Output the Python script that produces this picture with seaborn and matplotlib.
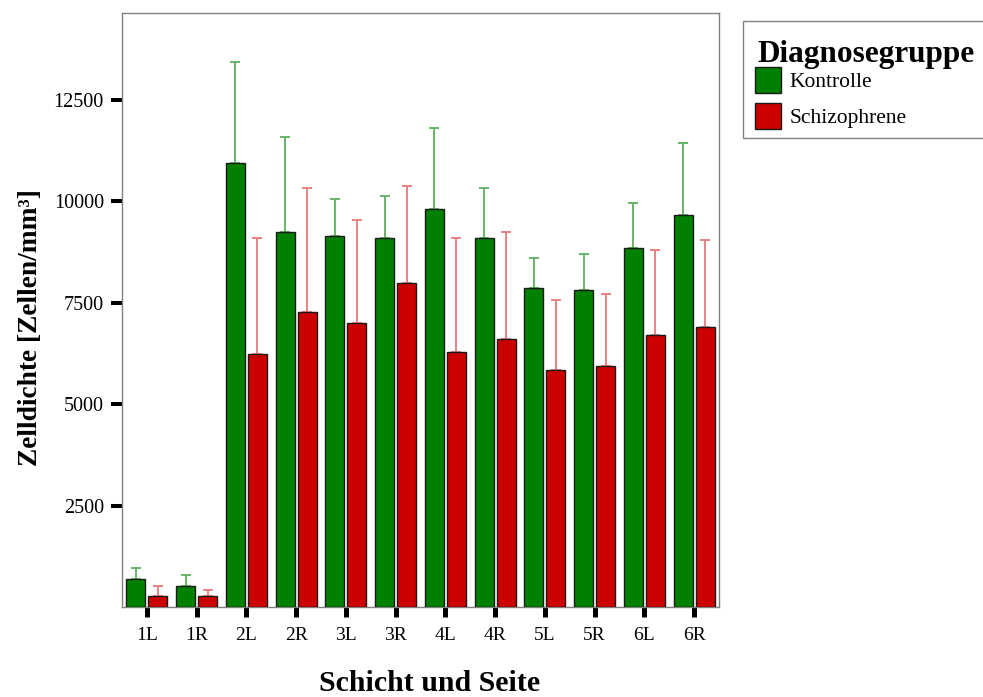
import numpy as np
import pandas as pd
import seaborn as sns
import matplotlib
matplotlib.use("Agg")
import matplotlib.pyplot as plt
from matplotlib.patches import Patch, Rectangle

categories = ["1L", "1R", "2L", "2R", "3L", "3R", "4L", "4R", "5L", "5R", "6L", "6R"]
groups = ["Kontrolle", "Schizophrene"]
kontrolle_mean = [680, 530, 10940, 9250, 9150, 9100, 9810, 9100, 7860, 7810, 8850, 9660]
kontrolle_upper = [950, 800, 13430, 11590, 10060, 10120, 11800, 10320, 8590, 8690, 9960, 11440]
schizo_mean = [280, 280, 6240, 7260, 7000, 7990, 6290, 6600, 5830, 5930, 6700, 6900]
schizo_upper = [530, 430, 9090, 10330, 9550, 10370, 9100, 9250, 7570, 7720, 8800, 9040]
yticks = [2500, 5000, 7500, 10000, 12500]

bar_colors = {"Kontrolle": "#008000", "Schizophrene": "#cc0000"}
err_colors = {"Kontrolle": "#5cb05c", "Schizophrene": "#e87878"}

df = pd.DataFrame({
    "Schicht": categories * 2,
    "Gruppe": [groups[0]] * len(categories) + [groups[1]] * len(categories),
    "Wert": kontrolle_mean + schizo_mean,
})

sns.set_style("white")
plt.rcParams["font.family"] = ["Liberation Serif", "DejaVu Serif"]
plt.rcParams["text.color"] = "black"
plt.rcParams["axes.labelcolor"] = "black"
plt.rcParams["xtick.color"] = "black"
plt.rcParams["ytick.color"] = "black"

W, H = 983, 697
fig = plt.figure(figsize=(W / 100, H / 100), dpi=100)
ax = fig.add_axes([0.1241, 0.1291, 0.6073, 0.8522])

sns.barplot(data=df, x="Schicht", y="Wert", hue="Gruppe", order=categories,
            hue_order=groups, palette=bar_colors, errorbar=None, width=0.88,
            gap=0.13, edgecolor="#1a1a1a", linewidth=1.0, saturation=1,
            legend=False, ax=ax, zorder=3)

# error bars (upper only) at bar centres
patches = ax.patches
n = len(categories)
for gi, (g, means, uppers) in enumerate([(groups[0], kontrolle_mean, kontrolle_upper),
                                          (groups[1], schizo_mean, schizo_upper)]):
    bars = patches[gi * n:(gi + 1) * n]
    xs = [b.get_x() + b.get_width() / 2 for b in bars]
    m = np.array(means)
    u = np.array(uppers)
    ax.errorbar(xs, m, yerr=[np.zeros_like(m), u - m], fmt="none",
                ecolor=err_colors[g], elinewidth=1.3, capsize=3.4, capthick=1.3,
                zorder=2)

ax.set_xlim(-0.5, len(categories) - 0.5)
ax.set_ylim(0, 14640)
ax.set_yticks(yticks)
ax.set_yticklabels([str(t) for t in yticks])

for s in ax.spines.values():
    s.set_color("#808080")
    s.set_linewidth(1.0)

ax.tick_params(axis="y", direction="out", length=8, width=2.9, color="black",
               labelcolor="black", labelsize=14.5, pad=5, left=True)
ax.tick_params(axis="x", direction="out", length=7.2, width=3.6, color="black",
               labelcolor="black", labelsize=14, pad=7, bottom=True)

ax.set_ylabel("Zelldichte [Zellen/mm³]", fontsize=19.7, fontweight="bold", color="black")
ax.yaxis.set_label_coords(-0.154, 0.471)
ax.yaxis.label.set_va("center")
ax.set_xlabel("Schicht und Seite", fontsize=21.5, fontweight="bold", color="black")
ax.xaxis.set_label_coords(0.516, -0.128)
ax.xaxis.label.set_va("center")

# legend box
fig.patches.append(Rectangle((743 / W, 1 - 138 / H), 0.3, (138 - 21) / H,
                             transform=fig.transFigure, facecolor="white",
                             edgecolor="#808080", linewidth=1.0, zorder=0))
fig.text(757 / W, 1 - 62 / H, "Diagnosegruppe", fontsize=22.5, fontweight="bold",
         ha="left", va="baseline", color="black")
handles = [Patch(facecolor=bar_colors[g], edgecolor="#1a1a1a", linewidth=1.0, label=g)
           for g in groups]
leg = fig.legend(handles=handles, loc="upper left",
                 bbox_to_anchor=(755 / W, 1 - 67.5 / H),
                 frameon=False, fontsize=15.5,
                 handlelength=1.2, handleheight=1.45,
                 handletextpad=0.42, borderpad=0, labelspacing=0.47,
                 borderaxespad=0)
for t in leg.get_texts():
    t.set_color("black")

fig.savefig("out.png", dpi=100)
